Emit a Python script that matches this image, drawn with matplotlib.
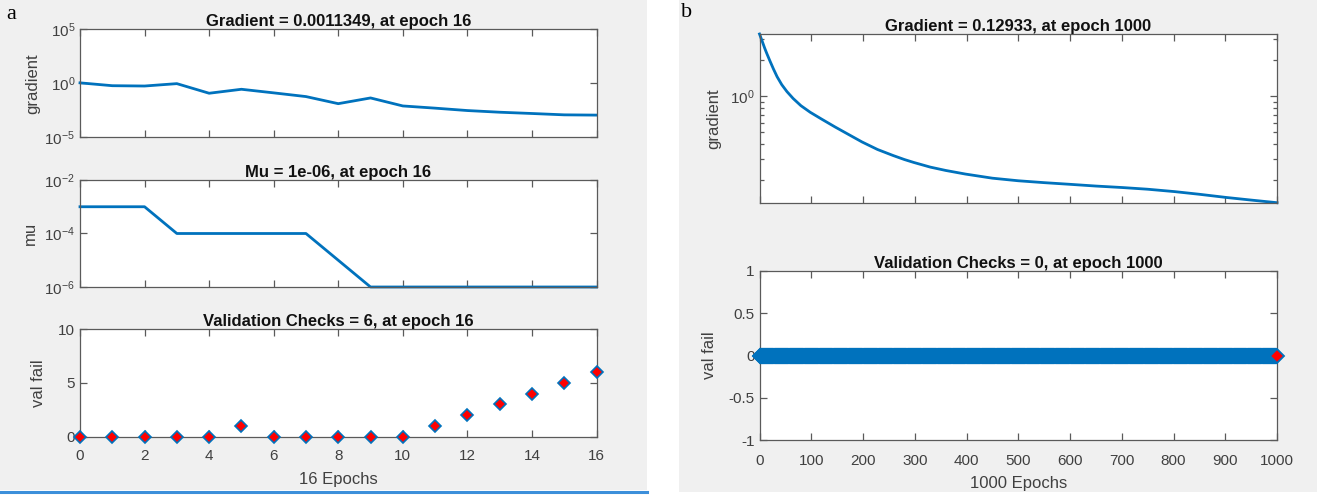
"""Recreate the two MATLAB nntraintool training-state panels (a: 16 epochs, b: 1000 epochs)."""
import matplotlib
matplotlib.use("Agg")
import matplotlib.pyplot as plt
from matplotlib.patches import Rectangle
from matplotlib.lines import Line2D
from matplotlib.ticker import NullLocator, NullFormatter, FixedLocator
import numpy as np

plt.rcParams.update({"font.family": ["Liberation Sans", "DejaVu Sans"], "font.size": 11,
                     "mathtext.fontset": "custom", "mathtext.rm": "Liberation Sans",
                     "mathtext.it": "Liberation Sans:italic", "mathtext.bf": "Liberation Sans:bold"})

BLUE, RED, PANEL, SPINE, TXT = "#0072BD", "#FF0000", "#F0F0F0", "#5A5A5A", "#404040"

# ---- panel a: 16 epochs ----
epochs_a = list(range(17))
grad_a = [1.1, 0.6, 0.56, 0.93, 0.12, 0.28, 0.13, 0.059, 0.013, 0.044,
          0.008, 0.005, 0.003, 0.0021, 0.0016, 0.0012, 0.0011349]
mu_a = [1e-3, 1e-3, 1e-3, 1e-4, 1e-4, 1e-4, 1e-4, 1e-4, 1e-5,
        1e-6, 1e-6, 1e-6, 1e-6, 1e-6, 1e-6, 1e-6, 1e-6]
valfail_a = [0, 0, 0, 0, 0, 1, 0, 0, 0, 0, 0, 1, 2, 3, 4, 5, 6]

# ---- panel b: 1000 epochs (gradient at selected epochs) ----
epochs_b_grad = [0, 5, 10, 14, 20, 27, 34, 43, 53, 65, 80, 98, 120, 146, 172, 198,
                 228, 258, 280, 298, 330, 360, 398, 450, 500, 550, 600, 650, 701,
                 750, 802, 850, 902, 950, 1000]
grad_b = [3.29, 2.88, 2.51, 2.27, 1.97, 1.68, 1.45, 1.245, 1.09, 0.955, 0.832, 0.733,
          0.643, 0.553, 0.479, 0.415, 0.359, 0.320, 0.296, 0.280, 0.256, 0.240, 0.224,
          0.207, 0.197, 0.190, 0.184, 0.178, 0.173, 0.1675, 0.160, 0.152, 0.143, 0.136,
          0.12933]
epochs_b = np.arange(1001)
valfail_b = np.zeros(1001)

W, H = 1317, 498
fig = plt.figure(figsize=(W / 100, H / 100), dpi=100)
fig.patch.set_facecolor("white")

# grey window backgrounds + the blue window border seen under panel a
fig.add_artist(Rectangle((0, 1 - 490 / H), 647 / W, 490 / H, transform=fig.transFigure,
                         facecolor=PANEL, edgecolor="none", zorder=0))
fig.add_artist(Rectangle((679 / W, 1 - 492 / H), (W - 679) / W, 492 / H, transform=fig.transFigure,
                         facecolor=PANEL, edgecolor="none", zorder=0))
fig.add_artist(Line2D([0, 647 / W], [1 - 491.5 / H] * 2, transform=fig.transFigure,
                      color="#3C8FDA", lw=2.2, zorder=1))


def box(x0, x1, y0, y1):
    return fig.add_axes([x0 / W, 1 - y1 / H, (x1 - x0) / W, (y1 - y0) / H])


def style(ax, title, xlabels=False, xpad=9):
    ax.set_facecolor("white")
    for s in ax.spines.values():
        s.set_color(SPINE); s.set_linewidth(0.9)
    ax.tick_params(which="both", direction="in", top=True, right=True, colors=SPINE,
                   labelcolor=TXT, labelsize=11, width=0.9)
    ax.tick_params(which="major", length=5)
    ax.tick_params(which="minor", length=3)
    ax.tick_params(axis="x", pad=xpad, labelbottom=xlabels)
    ax.tick_params(axis="y", pad=3.5)
    ax.set_title(title, fontsize=12, weight="bold", pad=2, color="#111111")


def ylab(ax, text, xpos):
    ax.set_ylabel(text, fontsize=12, color=TXT)
    ax.yaxis.set_label_coords(xpos, 0.5)


# panel a axes
a1 = box(80, 596.5, 29.3, 137.3)
a1.plot(epochs_a, grad_a, color=BLUE, lw=2, clip_on=False)
a1.set_yscale("log"); a1.set_ylim(1e-5, 1e5)
a1.yaxis.set_major_locator(FixedLocator([1e-5, 1, 1e5]))
a1.yaxis.set_minor_locator(NullLocator())
style(a1, "Gradient = 0.0011349, at epoch 16")
ylab(a1, "gradient", -0.076)

a2 = box(80, 596.5, 180, 287)
a2.plot(epochs_a, mu_a, color=BLUE, lw=2, clip_on=False)
a2.set_yscale("log"); a2.set_ylim(1e-6, 1e-2)
a2.yaxis.set_major_locator(FixedLocator([1e-6, 1e-4, 1e-2]))
a2.yaxis.set_minor_locator(NullLocator())
style(a2, "Mu = 1e-06, at epoch 16")
ylab(a2, "mu", -0.081)

a3 = box(80, 596.5, 329.3, 436.7)
a3.plot(epochs_a, valfail_a, ls="none", marker="D", ms=6, mfc=RED, mec=BLUE, mew=1.2,
        clip_on=False, zorder=5)
a3.set_ylim(0, 10); a3.set_yticks([0, 5, 10])
style(a3, "Validation Checks = 6, at epoch 16", xlabels=True)
a3.set_xlabel("16 Epochs", fontsize=12, color=TXT, labelpad=6)
ylab(a3, "val fail", -0.066)

for ax in (a1, a2, a3):
    ax.set_xlim(0, 16); ax.set_xticks(range(0, 17, 2))

# panel b axes
b1 = box(759.5, 1277, 34, 202.7)
b1.plot(epochs_b_grad, grad_b, color=BLUE, lw=2, clip_on=False)
b1.set_yscale("log"); b1.set_ylim(0.12933, 3.29)
b1.yaxis.set_minor_formatter(NullFormatter())
style(b1, "Gradient = 0.12933, at epoch 1000")
ylab(b1, "gradient", -0.074)

b2 = box(759.5, 1277, 271, 440)
b2.plot(epochs_b, valfail_b, ls="none", marker="D", ms=7.5, mfc=RED, mec=BLUE, mew=1.3,
        clip_on=False, zorder=5)
b2.set_ylim(-1, 1); b2.set_yticks([-1, -0.5, 0, 0.5, 1])
b2.set_yticklabels(["-1", "-0.5", "0", "0.5", "1"])
style(b2, "Validation Checks = 0, at epoch 1000", xlabels=True, xpad=10)
b2.set_xlabel("1000 Epochs", fontsize=12, color=TXT, labelpad=6)
ylab(b2, "val fail", -0.082)

for ax in (b1, b2):
    ax.set_xlim(0, 1000); ax.set_xticks(range(0, 1001, 100))

fig.text(6 / W, 1 - 19 / H, "a", fontsize=16, family=["Liberation Serif", "DejaVu Serif"])
fig.text(681 / W, 1 - 17 / H, "b", fontsize=16, family=["Liberation Serif", "DejaVu Serif"])

fig.savefig("out.png", dpi=100, facecolor="white")
